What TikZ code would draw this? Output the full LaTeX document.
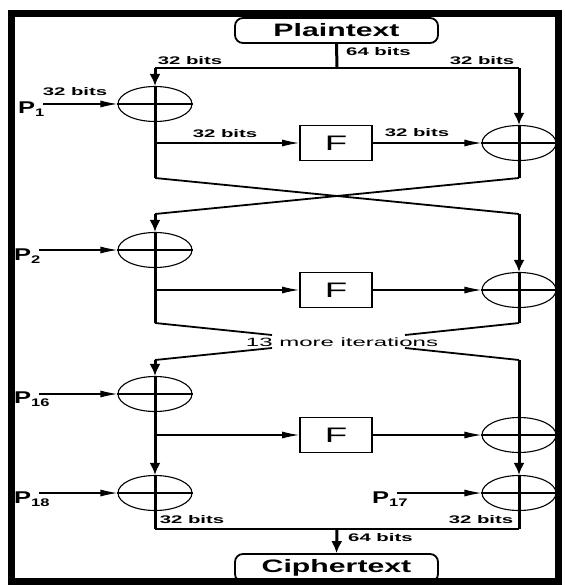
\documentclass[tikz,border=0pt]{standalone}
\usepackage{fontspec}
\setmainfont{Liberation Sans}
\usepackage{graphicx}
\usetikzlibrary{arrows.meta,shapes.geometric}

\newcommand{\bitslab}[1]{\scalebox{1.85}[1]{\fontsize{11}{12}\selectfont\bfseries #1}}
\newcommand{\Plab}[1]{\scalebox{1.5}[1]{\fontsize{17}{18}\selectfont\bfseries P\raisebox{-3pt}{\fontsize{11}{11}\selectfont #1}}}
\newcommand{\boxtxt}[1]{\scalebox{1.68}[1]{\fontsize{18}{20}\selectfont\bfseries #1}}

\tikzset{
  thickln/.style={line width=3pt},
  midln/.style={line width=1.8pt},
  thinln/.style={line width=1.1pt},
  varrow/.style={thickln,-{Latex[length=12pt,width=11pt]}},
  harrow/.style={thinln,-{Latex[length=17pt,width=7pt]}},
  xorc/.style={ellipse,draw,line width=1.1pt,minimum width=74pt,minimum height=35pt,inner sep=0pt},
  fbox/.style={draw,line width=1.8pt,minimum width=72pt,minimum height=35pt,inner sep=0pt,
    font=\fontsize{21}{22}\selectfont},
  endbox/.style={draw,line width=1.8pt,rounded corners=8pt,minimum width=203pt,inner sep=0pt},
  lab/.style={inner sep=0pt}
}

\begin{document}
\begin{tikzpicture}[x=1pt,y=-1pt]
\useasboundingbox (0,0) rectangle (564,585);
\fill[white] (0,0) rectangle (564,585);

% boxes
\node[endbox,minimum height=25pt] (pt) at (336.5,30.5) {\boxtxt{Plaintext}};
\node[endbox,minimum height=28pt] (ct) at (336.5,568) {\boxtxt{Ciphertext}};

% coordinates
\coordinate (tm) at (337,68);
\coordinate (tl) at (155,68);
\coordinate (tr) at (519,68);
\coordinate (b1l) at (155,178);
\coordinate (b1r) at (519,178);
\coordinate (t2l) at (155,214);
\coordinate (t2r) at (519,214);
\coordinate (b2l) at (155,323);
\coordinate (b2r) at (519,323);
\coordinate (t3l) at (155,360);
\coordinate (t3r) at (519,360);
\coordinate (b4l) at (155,529);
\coordinate (b4r) at (519,529);
\coordinate (bm) at (337,529);

% xor circles and F boxes
\node[xorc] (L1) at (155,104) {};
\node[xorc] (R1) at (519,143) {};
\node[fbox] (F1) at (336,143) {\scalebox{1.75}[1]{F}};
\node[xorc] (L2) at (155,250) {};
\node[xorc] (R2) at (519,290) {};
\node[fbox] (F2) at (336,290) {\scalebox{1.75}[1]{F}};
\node[xorc] (L3) at (155,394) {};
\node[xorc] (R3) at (519,435) {};
\node[fbox] (F3) at (336,435) {\scalebox{1.75}[1]{F}};
\node[xorc] (L4) at (155,493) {};
\node[xorc] (R4) at (519,493) {};

% P inputs
\node[lab,anchor=base west] (P1) at (18,114) {\Plab{1}};
\node[lab,anchor=base west] (P2) at (14,260) {\Plab{2}};
\node[lab,anchor=base west] (P16) at (14,403) {\Plab{16}};
\node[lab,anchor=base west] (P18) at (14,503) {\Plab{18}};
\node[lab,anchor=base west] (P17) at (372,503) {\Plab{17}};
\coordinate (p1s) at (43,104);
\coordinate (p2s) at (39,250);
\coordinate (p16s) at (39,394);
\coordinate (p18s) at (39,493);
\coordinate (p17s) at (397,493);
\draw[harrow] (p1s) -- (L1.west);
\draw[harrow] (p2s) -- (L2.west);
\draw[harrow] (p16s) -- (L3.west);
\draw[harrow] (p18s) -- (L4.west);
\draw[harrow] (p17s) -- (R4.west);
\foreach \c in {L1,R1,L2,R2,L3,R3,L4,R4} \draw[thinln] (\c.west) -- (\c.east);

% top split
\draw[thickln] (pt.south) -- (tm);
\draw[midln] (tl) -- (tr);
% round 1
\draw[varrow] (tl) -- (L1.north);
\draw[thickln] (L1.north) -- (b1l);
\draw[varrow] (tr) -- (R1.north);
\draw[thickln] (R1.north) -- (b1r);
\draw[harrow] (b1l |- F1.west) -- (F1.west);
\draw[harrow] (F1.east) -- (R1.west);
% cross 1
\draw[midln] (b1l) -- (t2r);
\draw[midln] (b1r) -- (t2l);
% round 2
\draw[varrow] (t2l) -- (L2.north);
\draw[thickln] (L2.north) -- (b2l);
\draw[varrow] (t2r) -- (R2.north);
\draw[thickln] (R2.north) -- (b2r);
\draw[harrow] (b2l |- F2.west) -- (F2.west);
\draw[harrow] (F2.east) -- (R2.west);
% more iterations
\node[lab] (it) at (342,342) {\scalebox{2}[1]{\fontsize{12}{13}\selectfont 13 more iterations}};
\coordinate (ul) at (272,335);
\coordinate (ll) at (272,348);
\coordinate (ur) at (405,335);
\coordinate (lr) at (405,348);
\draw[midln] (b2l) -- (ul);
\draw[midln] (t3l) -- (ll);
\draw[midln] (b2r) -- (ur);
\draw[midln] (t3r) -- (lr);
% round 16
\draw[varrow] (t3l) -- (L3.north);
\draw[thickln] (L3.north) -- (L3.south);
\draw[varrow] (L3.south) -- (L4.north);
\draw[thickln] (L4.north) -- (b4l);
\draw[thickln] (t3r) -- (R3.south);
\draw[varrow] (R3.south) -- (R4.north);
\draw[thickln] (R4.north) -- (b4r);
\draw[harrow] (t3l |- F3.west) -- (F3.west);
\draw[harrow] (F3.east) -- (R3.west);
% bottom join
\draw[midln] (b4l) -- (b4r);
\draw[varrow] (bm) -- (ct.north);

% bit labels
\node[lab] (lb1) at (190,61) {\bitslab{32 bits}};
\node[lab] (lb2) at (482,60.5) {\bitslab{32 bits}};
\node[lab,anchor=west] (lb3) at (346,52) {\bitslab{64 bits}};
\node[lab] (lb4) at (75,92) {\bitslab{32 bits}};
\node[lab] (lb5) at (225,134) {\bitslab{32 bits}};
\node[lab] (lb6) at (417,133) {\bitslab{32 bits}};
\node[lab] (lb7) at (192,520) {\bitslab{32 bits}};
\node[lab] (lb8) at (481,520) {\bitslab{32 bits}};
\node[lab,anchor=west] (lb9) at (348,538) {\bitslab{64 bits}};

% frame
\draw[line width=7pt] (11.5,13.5) rectangle (558.5,581.5);
\end{tikzpicture}
\end{document}
